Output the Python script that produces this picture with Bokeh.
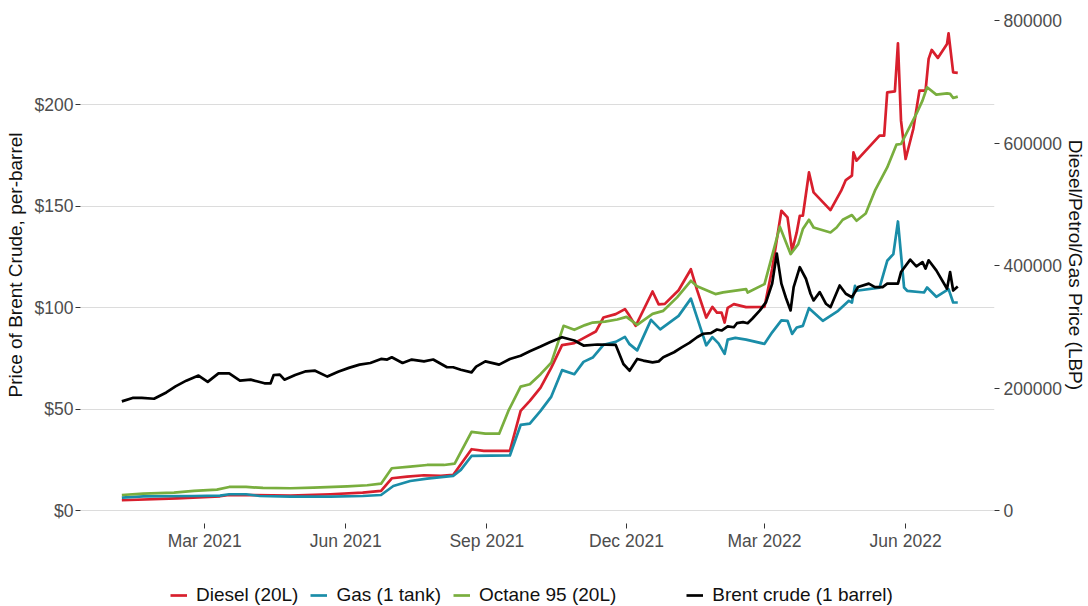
import pandas as pd
from bokeh.plotting import figure
from bokeh.layouts import column
from bokeh.models import (Range1d, LinearAxis, FixedTicker, NumeralTickFormatter,
                          DatetimeTickFormatter, Legend, LegendItem)
from bokeh.embed import file_html
from bokeh.resources import INLINE

# ---------------- data ----------------
diesel_dates = ["2021-01-06", "2021-02-11", "2021-03-11", "2021-03-17", "2021-04-26", "2021-05-22",
                "2021-06-12", "2021-06-24", "2021-07-01", "2021-07-11", "2021-07-22", "2021-08-02",
                "2021-08-10", "2021-08-22", "2021-08-30", "2021-09-16", "2021-09-23", "2021-09-29",
                "2021-10-06", "2021-10-13", "2021-10-20", "2021-10-28", "2021-11-03", "2021-11-11",
                "2021-11-16", "2021-11-24", "2021-11-30", "2021-12-03", "2021-12-07", "2021-12-18",
                "2021-12-22", "2021-12-26", "2022-01-04", "2022-01-12", "2022-01-16", "2022-01-22",
                "2022-01-26", "2022-01-29", "2022-02-01", "2022-02-03", "2022-02-05", "2022-02-09",
                "2022-02-17", "2022-03-01", "2022-03-06", "2022-03-12", "2022-03-16", "2022-03-19",
                "2022-03-22", "2022-03-24", "2022-03-26", "2022-03-30", "2022-04-02", "2022-04-13",
                "2022-04-20", "2022-04-23", "2022-04-27", "2022-04-28", "2022-04-30", "2022-05-15",
                "2022-05-18", "2022-05-20", "2022-05-25", "2022-05-27", "2022-05-29", "2022-06-01",
                "2022-06-06", "2022-06-10", "2022-06-14", "2022-06-16", "2022-06-18", "2022-06-22",
                "2022-06-28", "2022-06-29", "2022-07-02", "2022-07-05"]
diesel_lbp = [17500, 20700, 24000, 26100, 25300, 27300, 29900, 32700, 53400, 56000, 58300, 57500,
              58800, 100800, 98000, 98000, 163300, 179600, 201400, 234000, 270600, 273900, 282000,
              292800, 315700, 321200, 329400, 318400, 302100, 358100, 337200, 338000, 360100, 394400,
              360900, 315700, 333100, 323800, 323800, 307500, 331500, 337500, 332600, 333100, 395200,
              489900, 479000, 424600, 454500, 481700, 481700, 552400, 519800, 491000, 522600, 540000,
              547100, 585100, 571600, 612400, 612400, 683100, 684700, 763100, 636900, 574300, 623300,
              685900, 685900, 737600, 752300, 739300, 762100, 779400, 715700, 714800]

gas_dates = ["2021-01-06", "2021-01-20", "2021-02-22", "2021-03-11", "2021-03-17", "2021-03-28",
             "2021-04-06", "2021-04-26", "2021-05-22", "2021-06-12", "2021-06-24", "2021-07-02",
             "2021-07-13", "2021-07-24", "2021-08-10", "2021-08-15", "2021-08-22", "2021-09-16",
             "2021-09-23", "2021-09-29", "2021-10-06", "2021-10-13", "2021-10-20", "2021-10-28",
             "2021-11-03", "2021-11-09", "2021-11-16", "2021-11-24", "2021-11-30", "2021-12-03",
             "2021-12-08", "2021-12-17", "2021-12-23", "2022-01-04", "2022-01-12", "2022-01-22",
             "2022-01-26", "2022-01-30", "2022-02-03", "2022-02-05", "2022-02-10", "2022-02-17",
             "2022-03-01", "2022-03-06", "2022-03-12", "2022-03-16", "2022-03-19", "2022-03-22",
             "2022-03-26", "2022-03-30", "2022-04-08", "2022-04-18", "2022-04-25", "2022-04-27",
             "2022-04-29", "2022-04-30", "2022-05-15", "2022-05-20", "2022-05-24", "2022-05-27",
             "2022-05-31", "2022-06-02", "2022-06-13", "2022-06-15", "2022-06-21", "2022-06-29",
             "2022-07-02", "2022-07-05"]
gas_lbp = [21700, 24000, 24500, 25000, 27300, 27300, 24500, 23400, 23400, 24500, 26100, 40800,
           49000, 52700, 57200, 67000, 89800, 90600, 140400, 142600, 163300, 186700, 229800, 223200,
           243300, 250300, 271100, 276000, 284100, 272200, 262100, 311900, 296400, 318400, 346500,
           270300, 283700, 273500, 256400, 279600, 282500, 279600, 272700, 291500, 311100, 310300,
           289000, 299300, 302100, 331000, 310300, 326600, 342900, 340200, 367400, 359300, 364600,
           408300, 419200, 472400, 364600, 359300, 356500, 364600, 349500, 362000, 340200, 340200]

octane_dates = ["2021-01-06", "2021-01-20", "2021-02-09", "2021-02-22", "2021-03-09", "2021-03-17",
                "2021-03-28", "2021-04-08", "2021-04-26", "2021-05-11", "2021-06-02", "2021-06-15",
                "2021-06-24", "2021-07-01", "2021-07-13", "2021-07-24", "2021-08-04", "2021-08-11",
                "2021-08-22", "2021-08-31", "2021-09-09", "2021-09-15", "2021-09-23", "2021-09-29",
                "2021-10-06", "2021-10-13", "2021-10-21", "2021-10-28", "2021-11-04", "2021-11-09",
                "2021-11-17", "2021-11-25", "2021-12-01", "2021-12-08", "2021-12-18", "2021-12-25",
                "2022-01-03", "2022-01-12", "2022-01-16", "2022-01-28", "2022-02-02", "2022-02-17",
                "2022-02-18", "2022-03-01", "2022-03-11", "2022-03-18", "2022-03-23", "2022-03-26",
                "2022-03-30", "2022-04-02", "2022-04-13", "2022-04-17", "2022-04-21", "2022-04-27",
                "2022-04-30", "2022-05-06", "2022-05-12", "2022-05-20", "2022-05-26", "2022-05-29",
                "2022-06-03", "2022-06-08", "2022-06-12", "2022-06-15", "2022-06-21", "2022-06-28",
                "2022-06-30", "2022-07-02", "2022-07-05"]
octane_lbp = [26100, 28300, 29900, 32700, 34800, 39200, 39200, 37600, 37100, 38000, 40300, 42000,
              44600, 69700, 72300, 75100, 75100, 77200, 129000, 126200, 126200, 163300, 203000,
              206900, 223200, 242200, 302100, 295600, 303300, 307500, 309100, 312400, 316800, 303700,
              321700, 326600, 348600, 375600, 366600, 353900, 356800, 362000, 356500, 370200, 463800,
              419200, 435500, 460000, 475200, 462600, 454500, 462600, 475200, 482900, 473600, 485500,
              522600, 560600, 597700, 598800, 623300, 647800, 669500, 691300, 679300, 681400, 680500,
              673900, 676100]

brent_dates = ["2021-01-06", "2021-01-13", "2021-01-19", "2021-01-27", "2021-02-04", "2021-02-10",
               "2021-02-17", "2021-02-25", "2021-03-03", "2021-03-10", "2021-03-17", "2021-03-24",
               "2021-03-31", "2021-04-04", "2021-04-09", "2021-04-13", "2021-04-15", "2021-04-19",
               "2021-04-22", "2021-04-29", "2021-05-06", "2021-05-12", "2021-05-20", "2021-05-27",
               "2021-06-03", "2021-06-10", "2021-06-17", "2021-06-24", "2021-06-28", "2021-07-01",
               "2021-07-08", "2021-07-14", "2021-07-22", "2021-07-28", "2021-08-06", "2021-08-10",
               "2021-08-15", "2021-08-22", "2021-08-25", "2021-08-31", "2021-09-09", "2021-09-16",
               "2021-09-23", "2021-09-29", "2021-10-06", "2021-10-12", "2021-10-20", "2021-10-28",
               "2021-11-03", "2021-11-12", "2021-11-24", "2021-11-29", "2021-12-03", "2021-12-08",
               "2021-12-12", "2021-12-18", "2021-12-22", "2021-12-25", "2022-01-01", "2022-01-06",
               "2022-01-11", "2022-01-16", "2022-01-20", "2022-01-25", "2022-01-29", "2022-02-01",
               "2022-02-05", "2022-02-09", "2022-02-11", "2022-02-15", "2022-02-18", "2022-02-21",
               "2022-02-26", "2022-03-02", "2022-03-06", "2022-03-09", "2022-03-12", "2022-03-15",
               "2022-03-18", "2022-03-20", "2022-03-24", "2022-03-28", "2022-03-31", "2022-04-02",
               "2022-04-06", "2022-04-10", "2022-04-13", "2022-04-19", "2022-04-23", "2022-04-27",
               "2022-05-01", "2022-05-08", "2022-05-12", "2022-05-17", "2022-05-20", "2022-05-27",
               "2022-05-29", "2022-06-04", "2022-06-08", "2022-06-12", "2022-06-14", "2022-06-16",
               "2022-06-21", "2022-06-28", "2022-06-30", "2022-07-02", "2022-07-05"]
brent_usd = [54.0, 55.7, 55.7, 55.3, 58.4, 61.4, 64.2, 66.7, 63.6, 67.8, 67.8, 64.2,
             64.7, 63.9, 62.9, 62.9, 67.0, 67.2, 64.7, 67.0, 68.8, 69.1, 66.2, 68.6,
             70.5, 72.1, 72.9, 74.9, 74.6, 75.7, 72.9, 74.6, 73.7, 74.6, 70.8, 70.8,
             69.6, 68.3, 71.1, 73.7, 72.1, 74.9, 76.5, 78.7, 81.0, 83.1, 85.6, 84.0,
             81.5, 82.0, 81.8, 72.4, 69.1, 74.9, 74.1, 73.2, 73.7, 75.7, 78.2, 80.6,
             82.8, 85.6, 87.3, 87.6, 89.4, 88.9, 90.9, 90.5, 92.5, 93.0, 92.5, 94.7,
             98.8, 102.9, 112.0, 126.8, 112.0, 104.9, 98.8, 110.3, 120.1, 114.4, 107.0, 103.7,
             107.8, 102.1, 100.4, 111.1, 107.0, 105.3, 110.3, 112.0, 110.3, 110.3, 112.0, 112.0,
             117.7, 123.8, 120.5, 122.6, 119.4, 123.5, 118.5, 109.5, 117.7, 108.6, 110.6]

series_labels = ["Diesel (20L)", "Gas (1 tank)", "Octane 95 (20L)", "Brent crude (1 barrel)"]
usd_ticks = [0, 50, 100, 150, 200]
lbp_ticks = [0, 200000, 400000, 600000, 800000]
date_ticks = ["2021-03-01", "2021-06-01", "2021-09-01", "2021-12-01", "2022-03-01", "2022-06-01"]

# ---------------- styling ----------------
FONT = "Liberation Sans"
RED, BLUE, GREEN, BLACK = "#D81F2D", "#1A8DA8", "#79AE3E", "#000000"
LW = 2.7
W = 1088
FRAME_L, FRAME_R = 80, 995
PX_PER_DAY = 1.5355

x_start = pd.Timestamp("2021-03-01") - pd.Timedelta(days=(204.3 - FRAME_L) / PX_PER_DAY)
x_end = x_start + pd.Timedelta(days=(FRAME_R - FRAME_L) / PX_PER_DAY)

p = figure(width=W, height=560, x_axis_type="datetime",
           x_range=Range1d(x_start, x_end), y_range=Range1d(-6.16, 248.5),
           output_backend="svg", toolbar_location=None,
           min_border_left=FRAME_L, min_border_right=W - FRAME_R,
           min_border_top=6, min_border_bottom=37)
p.extra_y_ranges = {"lbp": Range1d(-20400, 823150)}
p.outline_line_color = None
p.background_fill_color = "white"
p.border_fill_color = "white"

p.line(pd.to_datetime(diesel_dates), diesel_lbp, line_color=RED, line_width=LW,
       line_join="round", y_range_name="lbp")
p.line(pd.to_datetime(gas_dates), gas_lbp, line_color=BLUE, line_width=LW,
       line_join="round", y_range_name="lbp")
p.line(pd.to_datetime(octane_dates), octane_lbp, line_color=GREEN, line_width=LW,
       line_join="round", y_range_name="lbp")
p.line(pd.to_datetime(brent_dates), brent_usd, line_color=BLACK, line_width=LW,
       line_join="round")

# axes
usd_ticker = FixedTicker(ticks=usd_ticks)
p.yaxis.ticker = usd_ticker
p.ygrid.ticker = usd_ticker
p.yaxis.formatter = NumeralTickFormatter(format="$0")
p.yaxis.axis_label = "Price of Brent Crude, per-barrel"

right = LinearAxis(y_range_name="lbp", ticker=FixedTicker(ticks=lbp_ticks),
                   formatter=NumeralTickFormatter(format="0"),
                   axis_label="Diesel/Petrol/Gas Price (LBP)")
p.add_layout(right, "right")

date_ms = [pd.Timestamp(d).value // 10**6 for d in date_ticks]
p.xaxis.ticker = FixedTicker(ticks=date_ms)
fmt = "%b %Y"
p.xaxis.formatter = DatetimeTickFormatter(milliseconds=fmt, seconds=fmt, minsec=fmt, minutes=fmt,
                                          hourmin=fmt, hours=fmt, days=fmt, months=fmt, years=fmt)

for ax in [p.xaxis[0], p.yaxis[0], right]:
    ax.axis_line_color = None
    ax.major_tick_line_color = "#333333"
    ax.major_tick_out = 5
    ax.major_tick_in = 0
    ax.minor_tick_line_color = None
    ax.major_label_text_font = FONT
    ax.major_label_text_font_size = "17.5px"
    ax.major_label_text_color = "#4D4D4D"
    ax.major_label_standoff = 2
    ax.axis_label_text_font = FONT
    ax.axis_label_text_font_size = "19px"
    ax.axis_label_text_font_style = "normal"
    ax.axis_label_text_color = "#111111"
p.yaxis[0].axis_label_standoff = 6
right.axis_label_standoff = 0
right.major_label_standoff = 4

p.xgrid.grid_line_color = None
p.ygrid.grid_line_color = "#DCDCDC"
p.ygrid.grid_line_width = 1

# ---------------- legend strip ----------------
lg = figure(width=W, height=46, x_range=Range1d(0, 1), y_range=Range1d(0, 1),
            output_backend="svg", toolbar_location=None,
            x_axis_location=None, y_axis_location=None,
            min_border_left=0, min_border_right=0, min_border_top=0, min_border_bottom=0)
lg.outline_line_color = None
lg.xgrid.visible = False
lg.ygrid.visible = False
lg.background_fill_color = "white"
lg.border_fill_color = "white"
off = dict(x=[-5, -4], y=[-5, -4])  # kept off-screen; only the legend swatches are seen
l_d = lg.line(line_color=RED, line_width=LW, **off)
l_g = lg.line(line_color=BLUE, line_width=LW, **off)
l_o = lg.line(line_color=GREEN, line_width=LW, **off)
l_gap = lg.line(line_alpha=0, **off)
l_b = lg.line(line_color=BLACK, line_width=LW, **off)

legend = Legend(items=[LegendItem(label=series_labels[0], renderers=[l_d]),
                       LegendItem(label=series_labels[1], renderers=[l_g]),
                       LegendItem(label=series_labels[2], renderers=[l_o]),
                       LegendItem(label=" ", renderers=[l_gap]),
                       LegendItem(label=series_labels[3], renderers=[l_b])],
                orientation="horizontal", location=(90, 0),
                border_line_color=None, background_fill_alpha=0,
                padding=0, margin=0, spacing=12, glyph_width=17, glyph_height=20,
                label_standoff=9, label_text_font=FONT, label_text_font_size="19px",
                label_text_color="#111111")
lg.add_layout(legend)

layout = column(p, lg, spacing=0)
open("out.html", "w").write(file_html(layout, INLINE))
